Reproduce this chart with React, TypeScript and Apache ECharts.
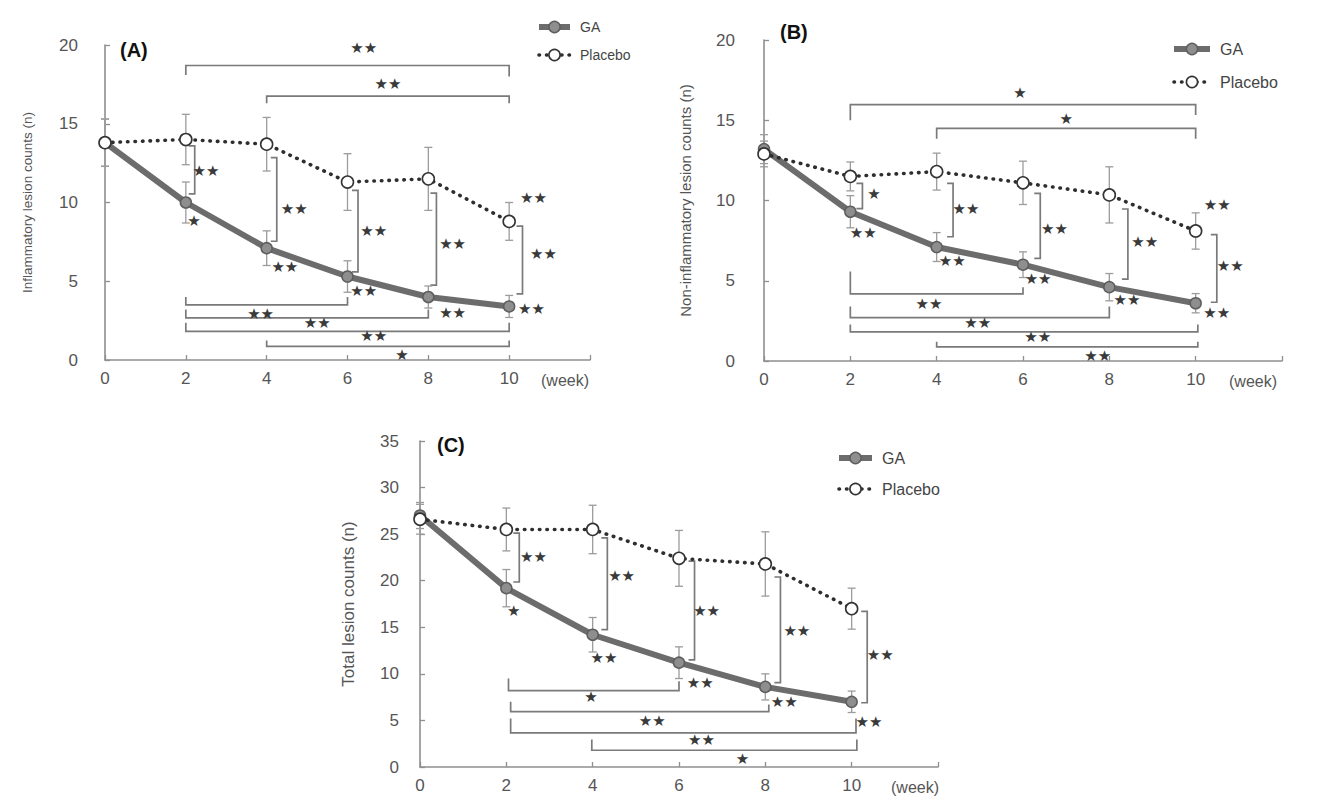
import React, { useEffect, useRef } from 'react';
import * as echarts from 'echarts';

// ---------- data ----------
const weeks = [0, 2, 4, 6, 8, 10];
const weekLabels = ['0', '2', '4', '6', '8', '10'];
const seriesNames = ['GA', 'Placebo'];
const panelLabels = ['(A)', '(B)', '(C)'];
const yAxisNames = ['Inflammatory lesion counts (n)', 'Non-inflammatory lesion counts (n)', 'Total lesion counts (n)'];
const yMax = [20, 20, 35];

// Panel A: inflammatory
const inflamGA = [13.8, 10.0, 7.1, 5.3, 4.0, 3.4];
const inflamGAErr = [1.5, 1.3, 1.1, 1.0, 0.7, 0.7];
const inflamPlacebo = [13.8, 14.0, 13.7, 11.3, 11.5, 8.8];
const inflamPlaceboErr = [1.5, 1.6, 1.7, 1.8, 2.0, 1.2];

// Panel B: non-inflammatory
const nonInflamGA = [13.2, 9.3, 7.1, 6.0, 4.6, 3.6];
const nonInflamGAErr = [0.9, 1.0, 0.9, 0.8, 0.85, 0.6];
const nonInflamPlacebo = [12.9, 11.5, 11.8, 11.1, 10.35, 8.1];
const nonInflamPlaceboErr = [0.8, 0.9, 1.15, 1.35, 1.75, 1.13];

// Panel C: total
const totalGA = [27.0, 19.2, 14.2, 11.2, 8.6, 7.0];
const totalGAErr = [1.4, 2.0, 1.85, 1.7, 1.4, 1.15];
const totalPlacebo = [26.6, 25.5, 25.5, 22.4, 21.8, 17.0];
const totalPlaceboErr = [1.6, 2.3, 2.6, 3.0, 3.45, 2.2];

// vertical brackets between groups: [week, yTop, yBottom]
const vBracketsA = [[2.22, 13.6, 10.55], [4.25, 12.85, 7.54], [6.26, 10.77, 5.6], [8.2, 10.6, 4.75], [10.33, 8.5, 4.2]];
const vBracketsB = [[2.28, 11.07, 9.49], [4.38, 11.07, 7.74], [6.4, 10.45, 6.4], [8.43, 9.47, 5.1], [10.49, 7.88, 3.66]];
const vBracketsC = [[2.3, 25.1, 19.86], [4.34, 24.6, 14.75], [6.36, 22.1, 11.5], [8.35, 20.4, 9.06], [10.36, 16.7, 6.9]];

// horizontal brackets: [weekFrom, weekTo, y, leftLegEnd, rightLegEnd]
const hBracketsA = [
  [2, 10, 18.7, 18.1, 18.0], [4, 10, 16.75, 16.3, 16.3],
  [2, 6, 3.5, 4.0, 4.0], [2, 8, 2.68, 3.2, 3.2], [2, 10, 1.82, 2.36, 2.36], [4, 10, 0.86, 1.24, 1.24],
];
const hBracketsB = [
  [2, 10, 15.97, 15.0, 15.33], [4, 10, 14.5, 13.85, 13.85],
  [2, 6, 4.18, 5.58, 4.6], [2, 8, 2.7, 3.4, 3.4], [2, 10.05, 1.81, 2.28, 2.28], [4, 10.05, 0.88, 1.2, 1.2],
];
const hBracketsC = [
  [2.05, 6, 8.2, 9.5, 9.2], [2.1, 8.08, 5.94, 7.0, 6.7], [2.1, 10.1, 3.67, 5.2, 5.2], [3.98, 10.12, 1.8, 2.95, 2.95],
];

// significance marks: x, y and text
const starXA = [2.5, 4.68, 6.65, 8.6, 10.85, 10.6, 2.2, 4.45, 6.4, 8.6, 10.55, 6.4, 7.0, 3.85, 5.25, 6.65, 7.35];
const starYA = [12.0, 9.6, 8.2, 7.35, 6.7, 10.3, 8.8, 5.9, 4.4, 3.0, 3.25, 19.8, 17.5, 2.93, 2.36, 1.5, 0.32];
const starTA = ['★★', '★★', '★★', '★★', '★★', '★★', '★', '★★', '★★', '★★', '★★', '★★', '★★', '★★', '★★', '★★', '★'];

const starXB = [2.55, 4.68, 6.73, 8.82, 10.8, 10.5, 2.3, 4.36, 6.35, 8.41, 10.49, 5.93, 7.0, 3.82, 4.95, 6.34, 7.73];
const starYB = [10.4, 9.5, 8.2, 7.43, 5.93, 9.73, 8.0, 6.23, 5.08, 3.83, 2.98, 16.7, 15.1, 3.56, 2.37, 1.5, 0.31];
const starTB = ['★', '★★', '★★', '★★', '★★', '★★', '★★', '★★', '★★', '★★', '★★', '★', '★', '★★', '★★', '★★', '★★'];

const starXC = [2.63, 4.67, 6.64, 8.73, 10.66, 2.17, 4.26, 6.49, 8.44, 10.4, 3.96, 5.38, 6.52, 7.47];
const starYC = [22.5, 20.5, 16.7, 14.6, 12.05, 16.8, 11.65, 9.0, 7.0, 4.86, 7.55, 4.96, 2.95, 0.9];
const starTC = ['★★', '★★', '★★', '★★', '★★', '★', '★★', '★★', '★★', '★★', '★', '★★', '★★', '★'];

// ---------- layout / style ----------
const FONT = '"Liberation Sans", Arial, Helvetica, sans-serif';
const grids = [
  { left: 105, top: 45, width: 485, height: 315 },
  { left: 764, top: 40, width: 518, height: 321 },
  { left: 420, top: 441, width: 518, height: 326 },
];
const yNameGap = [71, 71, 63];
const yNameSize = [13.5, 15, 17];
const yLabelMargin = [27, 29, 21];
const weekGap = [-49, -53, -47];
const titlePos = [{ left: 120, top: 40 }, { left: 780, top: 22 }, { left: 437, top: 435 }];
const legendPos = [
  { left: 536, top: 20, itemWidth: 31, itemGap: 14, fontSize: 14 },
  { left: 1171, top: 41, itemWidth: 36, itemGap: 17, fontSize: 16 },
  { left: 836, top: 450, itemWidth: 33, itemGap: 15, fontSize: 16 },
];

const AXIS_COLOR = '#8f8f8f';
const BRACKET_COLOR = '#7a7a7a';
const GA_LINE = { color: '#6c6c6c', width: 6 };
const PL_LINE = { color: '#2e2e2e', width: 3.6, type: [0.5, 7], cap: 'round' };
const GA_ITEM = { color: '#8e8e8e', borderColor: '#5e5e5e', borderWidth: 1.5 };
const PL_ITEM = { color: '#ffffff', borderColor: '#333333', borderWidth: 1.6 };

function errorBarSeries(idx: number, vals: number[], errs: number[]) {
  return {
    type: 'custom',
    xAxisIndex: idx,
    yAxisIndex: idx,
    z: 2,
    silent: true,
    clip: false,
    data: weeks.map((w, k) => [w, vals[k] - errs[k], vals[k] + errs[k]]),
    renderItem: (_p: any, api: any) => {
      const x = api.value(0);
      const lo = api.coord([x, api.value(1)]);
      const hi = api.coord([x, api.value(2)]);
      const c = 4;
      const st = { stroke: '#9c9c9c', lineWidth: 1.3 };
      return {
        type: 'group',
        children: [
          { type: 'line', shape: { x1: lo[0], y1: lo[1], x2: hi[0], y2: hi[1] }, style: st },
          { type: 'line', shape: { x1: lo[0] - c, y1: lo[1], x2: lo[0] + c, y2: lo[1] }, style: st },
          { type: 'line', shape: { x1: hi[0] - c, y1: hi[1], x2: hi[0] + c, y2: hi[1] }, style: st },
        ],
      };
    },
  };
}

function vBracketSeries(idx: number, data: number[][]) {
  return {
    type: 'custom',
    xAxisIndex: idx,
    yAxisIndex: idx,
    z: 1,
    silent: true,
    clip: false,
    data,
    renderItem: (_p: any, api: any) => {
      const x = api.value(0);
      const a = api.coord([x, api.value(1)]);
      const b = api.coord([x, api.value(2)]);
      return {
        type: 'polyline',
        shape: { points: [[a[0] - 6, a[1]], a, b, [b[0] - 6, b[1]]] },
        style: { stroke: BRACKET_COLOR, lineWidth: 1.7, fill: null },
      };
    },
  };
}

function hBracketSeries(idx: number, data: number[][]) {
  return {
    type: 'custom',
    xAxisIndex: idx,
    yAxisIndex: idx,
    z: 1,
    silent: true,
    clip: false,
    data,
    renderItem: (_p: any, api: any) => {
      const a = api.coord([api.value(0), api.value(2)]);
      const b = api.coord([api.value(1), api.value(2)]);
      const la = api.coord([api.value(0), api.value(3)]);
      const lb = api.coord([api.value(1), api.value(4)]);
      return {
        type: 'polyline',
        shape: { points: [[a[0], la[1]], a, b, [b[0], lb[1]]] },
        style: { stroke: BRACKET_COLOR, lineWidth: 1.7, fill: null },
      };
    },
  };
}

function starSeries(idx: number, xs: number[], ys: number[], texts: string[]) {
  return {
    type: 'custom',
    xAxisIndex: idx,
    yAxisIndex: idx,
    z: 6,
    silent: true,
    clip: false,
    data: xs.map((x, k) => [x, ys[k]]),
    renderItem: (p: any, api: any) => {
      const pt = api.coord([api.value(0), api.value(1)]);
      return {
        type: 'text',
        x: pt[0],
        y: pt[1],
        style: {
          text: texts[p.dataIndex],
          fill: '#3a3a3a',
          fontSize: 15,
          fontFamily: '"DejaVu Sans", sans-serif',
          align: 'center',
          verticalAlign: 'middle',
        },
      };
    },
  };
}

function lineSeries(idx: number, name: string, vals: number[]) {
  const isGA = name === 'GA';
  return {
    type: 'line',
    name,
    xAxisIndex: idx,
    yAxisIndex: idx,
    z: isGA ? 3 : 4,
    data: weeks.map((w, k) => [w, vals[k]]),
    symbol: 'circle',
    symbolSize: isGA ? 11 : 12,
    showSymbol: true,
    clip: false,
    itemStyle: isGA ? GA_ITEM : PL_ITEM,
    lineStyle: isGA ? GA_LINE : PL_LINE,
  };
}

const panelData = [
  { ga: inflamGA, gaErr: inflamGAErr, pl: inflamPlacebo, plErr: inflamPlaceboErr, v: vBracketsA, h: hBracketsA, sx: starXA, sy: starYA, st: starTA },
  { ga: nonInflamGA, gaErr: nonInflamGAErr, pl: nonInflamPlacebo, plErr: nonInflamPlaceboErr, v: vBracketsB, h: hBracketsB, sx: starXB, sy: starYB, st: starTB },
  { ga: totalGA, gaErr: totalGAErr, pl: totalPlacebo, plErr: totalPlaceboErr, v: vBracketsC, h: hBracketsC, sx: starXC, sy: starYC, st: starTC },
];

function buildOption() {
  const series: any[] = [];
  panelData.forEach((p, i) => {
    series.push(errorBarSeries(i, p.pl, p.plErr));
    series.push(errorBarSeries(i, p.ga, p.gaErr));
    series.push(lineSeries(i, seriesNames[0], p.ga));
    series.push(lineSeries(i, seriesNames[1], p.pl));
    series.push(vBracketSeries(i, p.v));
    series.push(hBracketSeries(i, p.h));
    series.push(starSeries(i, p.sx, p.sy, p.st));
  });

  return {
    animation: false,
    backgroundColor: '#ffffff',
    textStyle: { fontFamily: FONT },
    title: panelLabels.map((t, i) => ({
      text: t,
      left: titlePos[i].left,
      top: titlePos[i].top,
      padding: 0,
      textStyle: { fontFamily: FONT, fontWeight: 'bold', fontSize: 20, color: '#111' },
    })),
    legend: legendPos.map((l) => ({
      data: [
        { name: seriesNames[0], lineStyle: { ...GA_LINE }, itemStyle: { ...GA_ITEM } },
        { name: seriesNames[1], lineStyle: { ...PL_LINE }, itemStyle: { ...PL_ITEM } },
      ],
      orient: 'vertical',
      left: l.left,
      top: l.top,
      padding: 0,
      itemWidth: l.itemWidth,
      itemHeight: 14,
      itemGap: l.itemGap,
      selectedMode: false,
      textStyle: { color: '#444', fontSize: l.fontSize, fontFamily: FONT, padding: [0, 0, 0, 5] },
    })),
    grid: grids.map((g) => ({ ...g, containLabel: false })),
    xAxis: grids.map((_g, i) => ({
      type: 'value',
      gridIndex: i,
      min: 0,
      max: 12,
      interval: 2,
      axisLine: { show: true, lineStyle: { color: AXIS_COLOR, width: 1.6 } },
      axisTick: { show: true, inside: true, length: 5, lineStyle: { color: AXIS_COLOR, width: 1.3 } },
      axisLabel: {
        color: '#555',
        fontSize: 17,
        margin: 10,
        fontFamily: FONT,
        formatter: (v: number) => {
          const k = weeks.indexOf(v);
          return k >= 0 ? weekLabels[k] : '';
        },
      },
      splitLine: { show: false },
      name: '(week)',
      nameLocation: 'end',
      nameGap: weekGap[i],
      nameTextStyle: { color: '#555', fontSize: 16, fontFamily: FONT, align: 'left', verticalAlign: 'top', padding: [12, 0, 0, 0] },
    })),
    yAxis: grids.map((_g, i) => ({
      type: 'value',
      gridIndex: i,
      min: 0,
      max: yMax[i],
      interval: 5,
      axisLine: { show: true, lineStyle: { color: AXIS_COLOR, width: 1.6 } },
      axisTick: { show: true, inside: true, length: 5, lineStyle: { color: AXIS_COLOR, width: 1.3 } },
      axisLabel: { color: '#555', fontSize: 17, margin: yLabelMargin[i], fontFamily: FONT },
      splitLine: { show: false },
      name: yAxisNames[i],
      nameLocation: 'middle',
      nameGap: yNameGap[i],
      nameTextStyle: { color: '#555', fontSize: yNameSize[i], fontFamily: FONT },
    })),
    series,
  };
}

export default function App() {
  const ref = useRef<HTMLDivElement>(null);
  useEffect(() => {
    document.body.style.margin = '0';
    if (!ref.current) return;
    const chart = echarts.init(ref.current, undefined, { renderer: 'svg' });
    chart.setOption(buildOption() as any);
    return () => chart.dispose();
  }, []);
  return <div ref={ref} style={{ width: 1320, height: 812 }} />;
}
